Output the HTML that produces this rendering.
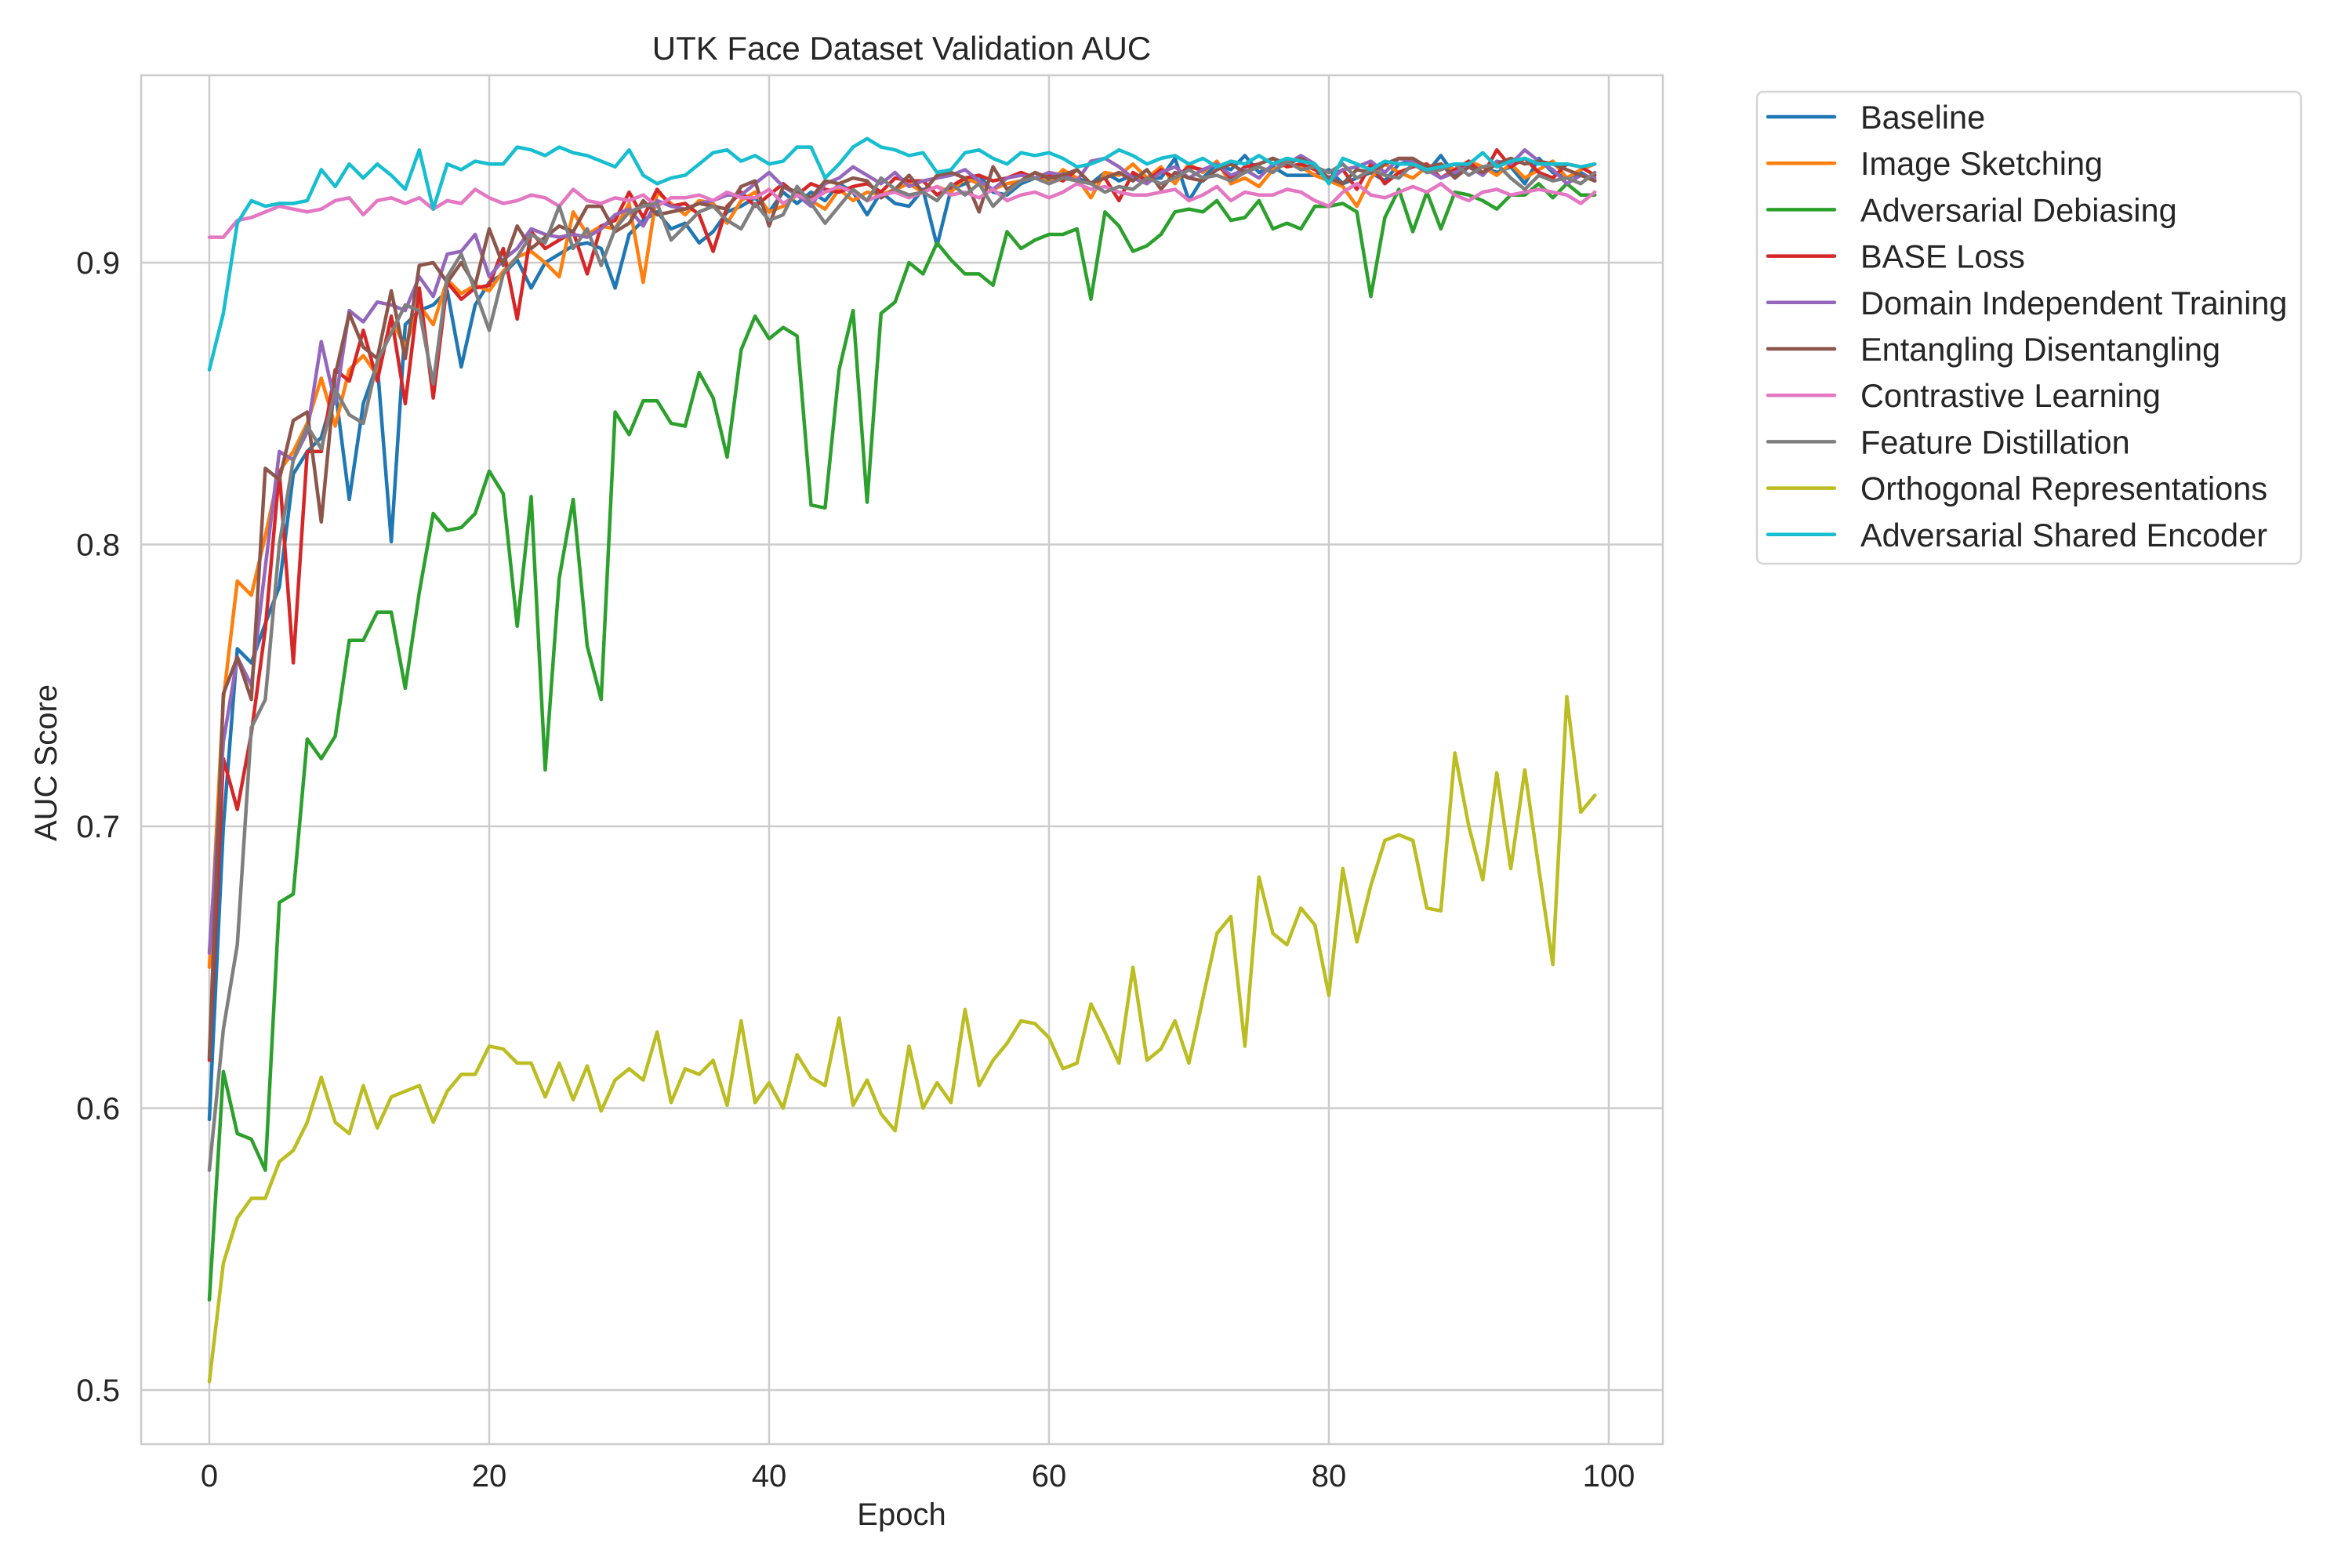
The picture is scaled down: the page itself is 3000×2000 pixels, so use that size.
<!DOCTYPE html>
<html><head><meta charset="utf-8"><style>
html,body{margin:0;padding:0;background:#fff;}
svg{display:block;font-family:"Liberation Sans",sans-serif;}
</style></head><body>
<svg id="chart" width="3000" height="2000" viewBox="0 0 3000 2000" xmlns="http://www.w3.org/2000/svg">
<rect width="3000" height="2000" fill="#fff"/>
<g id="grid"></g>
<g id="lines"></g>
<rect x="180" y="96" width="1941" height="1746" fill="none" stroke="#cccccc" stroke-width="2.5"/>
<g id="ticks" fill="#262626" font-size="40"></g>
<text x="1150" y="76" text-anchor="middle" font-size="42" fill="#262626">UTK Face Dataset Validation AUC</text>
<text x="1150" y="1945" text-anchor="middle" font-size="40" fill="#262626">Epoch</text>
<text transform="translate(72,973) rotate(-90)" text-anchor="middle" font-size="40" fill="#262626">AUC Score</text>
<g id="legend">
<rect x="2241" y="117" width="694" height="602" rx="8" fill="#fff" stroke="#d5d5d5" stroke-width="2.5"/>
</g>
</svg>
<script>
const seriesNames=["Baseline","Image Sketching","Adversarial Debiasing","BASE Loss","Domain Independent Training","Entangling Disentangling","Contrastive Learning","Feature Distillation","Orthogonal Representations","Adversarial Shared Encoder"];
const seriesColors=["#1f77b4","#ff7f0e","#2ca02c","#d62728","#9467bd","#8c564b","#e377c2","#7f7f7f","#bcbd22","#17becf"];
const xTicks=[0,20,40,60,80,100];
const yTicks=[0.5,0.6,0.7,0.8,0.9];
const yTickLabels=["0.5","0.6","0.7","0.8","0.9"];
const baseline=[0.596,0.700,0.763,0.758,0.772,0.785,0.825,0.833,0.838,0.855,0.816,0.850,0.864,0.801,0.878,0.883,0.885,0.890,0.863,0.885,0.893,0.896,0.901,0.891,0.900,0.903,0.906,0.907,0.905,0.891,0.910,0.915,0.918,0.912,0.914,0.907,0.911,0.918,0.920,0.923,0.918,0.925,0.921,0.925,0.922,0.928,0.925,0.917,0.925,0.921,0.920,0.926,0.906,0.926,0.928,0.931,0.925,0.924,0.928,0.930,0.929,0.932,0.930,0.928,0.932,0.929,0.931,0.930,0.930,0.937,0.922,0.930,0.935,0.933,0.938,0.932,0.934,0.931,0.931,0.931,0.933,0.928,0.930,0.932,0.929,0.935,0.936,0.932,0.938,0.931,0.935,0.934,0.932,0.934,0.928,0.937,0.932,0.930,0.932,0.929];
const imageSketching=[0.650,0.745,0.787,0.782,0.803,0.826,0.833,0.843,0.859,0.842,0.862,0.867,0.860,0.880,0.870,0.885,0.878,0.894,0.889,0.892,0.890,0.897,0.902,0.904,0.900,0.895,0.918,0.910,0.913,0.912,0.921,0.893,0.925,0.921,0.917,0.922,0.921,0.914,0.922,0.925,0.918,0.920,0.924,0.922,0.919,0.926,0.922,0.925,0.924,0.926,0.928,0.925,0.927,0.925,0.930,0.928,0.926,0.928,0.929,0.932,0.928,0.933,0.930,0.923,0.932,0.931,0.935,0.930,0.934,0.928,0.935,0.932,0.936,0.928,0.930,0.927,0.933,0.935,0.934,0.931,0.929,0.927,0.920,0.930,0.935,0.932,0.930,0.934,0.935,0.933,0.936,0.934,0.931,0.935,0.930,0.933,0.936,0.930,0.933,0.935];
const advDebiasing=[0.532,0.613,0.591,0.589,0.578,0.673,0.676,0.731,0.724,0.732,0.766,0.766,0.776,0.776,0.749,0.783,0.811,0.805,0.806,0.811,0.826,0.818,0.771,0.817,0.720,0.788,0.816,0.764,0.745,0.847,0.839,0.851,0.851,0.843,0.842,0.861,0.852,0.831,0.869,0.881,0.873,0.877,0.874,0.814,0.813,0.862,0.883,0.815,0.882,0.886,0.900,0.896,0.907,0.901,0.896,0.896,0.892,0.911,0.905,0.908,0.910,0.910,0.912,0.887,0.918,0.913,0.904,0.906,0.910,0.918,0.919,0.918,0.922,0.915,0.916,0.922,0.912,0.914,0.912,0.920,0.920,0.921,0.918,0.888,0.916,0.926,0.911,0.925,0.912,0.925,0.924,0.922,0.919,0.924,0.924,0.928,0.923,0.928,0.924,0.924];
const baseLoss=[0.617,0.724,0.706,0.733,0.770,0.826,0.758,0.833,0.833,0.862,0.858,0.876,0.858,0.881,0.850,0.891,0.852,0.893,0.887,0.891,0.892,0.905,0.880,0.911,0.905,0.908,0.911,0.896,0.913,0.915,0.925,0.916,0.926,0.920,0.921,0.917,0.904,0.920,0.925,0.920,0.924,0.928,0.924,0.928,0.926,0.925,0.927,0.928,0.925,0.930,0.929,0.929,0.924,0.927,0.930,0.931,0.929,0.930,0.932,0.930,0.931,0.929,0.933,0.928,0.930,0.922,0.932,0.929,0.933,0.930,0.934,0.933,0.935,0.930,0.934,0.935,0.937,0.934,0.935,0.933,0.930,0.933,0.926,0.935,0.928,0.932,0.934,0.935,0.930,0.933,0.936,0.931,0.940,0.934,0.937,0.932,0.930,0.935,0.934,0.931];
const domainIndep=[0.655,0.730,0.760,0.750,0.792,0.833,0.830,0.840,0.872,0.850,0.883,0.879,0.886,0.885,0.883,0.895,0.888,0.903,0.904,0.910,0.895,0.901,0.905,0.912,0.910,0.909,0.910,0.909,0.912,0.917,0.919,0.913,0.922,0.920,0.919,0.921,0.922,0.924,0.924,0.928,0.932,0.927,0.924,0.920,0.928,0.930,0.934,0.931,0.928,0.932,0.927,0.929,0.930,0.931,0.933,0.929,0.926,0.930,0.931,0.930,0.932,0.931,0.929,0.936,0.937,0.934,0.930,0.928,0.932,0.934,0.930,0.933,0.935,0.931,0.933,0.930,0.935,0.935,0.938,0.935,0.929,0.933,0.934,0.936,0.932,0.937,0.936,0.933,0.930,0.932,0.934,0.931,0.936,0.935,0.940,0.936,0.933,0.928,0.931,0.930];
const entangling=[0.618,0.747,0.760,0.745,0.827,0.823,0.844,0.847,0.808,0.860,0.882,0.870,0.866,0.890,0.866,0.899,0.900,0.893,0.900,0.892,0.912,0.899,0.913,0.905,0.909,0.913,0.911,0.920,0.920,0.911,0.914,0.922,0.917,0.918,0.919,0.921,0.920,0.919,0.927,0.929,0.913,0.927,0.925,0.923,0.929,0.928,0.930,0.929,0.923,0.926,0.931,0.925,0.931,0.932,0.930,0.918,0.934,0.926,0.929,0.932,0.930,0.931,0.933,0.928,0.930,0.932,0.929,0.933,0.926,0.932,0.930,0.929,0.933,0.935,0.932,0.935,0.937,0.935,0.937,0.934,0.930,0.928,0.933,0.932,0.935,0.937,0.937,0.934,0.935,0.930,0.934,0.932,0.935,0.937,0.935,0.936,0.935,0.933,0.931,0.929];
const contrastive=[0.909,0.909,0.915,0.916,0.918,0.920,0.919,0.918,0.919,0.922,0.923,0.917,0.922,0.923,0.921,0.923,0.919,0.922,0.921,0.926,0.923,0.921,0.922,0.924,0.923,0.920,0.926,0.922,0.921,0.923,0.922,0.924,0.920,0.923,0.923,0.924,0.922,0.925,0.923,0.923,0.926,0.921,0.924,0.922,0.925,0.927,0.925,0.922,0.924,0.925,0.923,0.925,0.927,0.924,0.925,0.923,0.926,0.922,0.924,0.925,0.923,0.925,0.928,0.926,0.927,0.925,0.924,0.924,0.925,0.926,0.922,0.924,0.927,0.922,0.925,0.924,0.924,0.926,0.925,0.922,0.920,0.925,0.928,0.924,0.923,0.925,0.927,0.925,0.928,0.924,0.922,0.925,0.926,0.924,0.925,0.926,0.925,0.924,0.921,0.925];
const featureDist=[0.578,0.628,0.658,0.735,0.745,0.800,0.830,0.842,0.834,0.855,0.846,0.843,0.865,0.875,0.885,0.883,0.857,0.895,0.903,0.890,0.876,0.896,0.902,0.910,0.907,0.920,0.905,0.912,0.899,0.912,0.918,0.920,0.921,0.908,0.913,0.918,0.920,0.915,0.912,0.921,0.915,0.917,0.927,0.921,0.914,0.920,0.926,0.922,0.930,0.926,0.924,0.925,0.922,0.928,0.924,0.928,0.920,0.925,0.929,0.930,0.928,0.930,0.929,0.928,0.925,0.927,0.926,0.930,0.928,0.930,0.933,0.930,0.931,0.929,0.932,0.934,0.932,0.936,0.933,0.934,0.932,0.935,0.930,0.933,0.931,0.930,0.935,0.932,0.933,0.935,0.931,0.934,0.935,0.930,0.926,0.931,0.929,0.930,0.928,0.932];
const orthogonal=[0.503,0.545,0.561,0.568,0.568,0.581,0.585,0.595,0.611,0.595,0.591,0.608,0.593,0.604,0.606,0.608,0.595,0.606,0.612,0.612,0.622,0.621,0.616,0.616,0.604,0.616,0.603,0.615,0.599,0.610,0.614,0.610,0.627,0.602,0.614,0.612,0.617,0.601,0.631,0.602,0.609,0.600,0.619,0.611,0.608,0.632,0.601,0.610,0.598,0.592,0.622,0.600,0.609,0.602,0.635,0.608,0.617,0.623,0.631,0.630,0.625,0.614,0.616,0.637,0.627,0.616,0.650,0.617,0.621,0.631,0.616,0.639,0.662,0.668,0.622,0.682,0.662,0.658,0.671,0.665,0.640,0.685,0.659,0.679,0.695,0.697,0.695,0.671,0.670,0.726,0.700,0.681,0.719,0.685,0.720,0.685,0.651,0.746,0.705,0.711];
const advShared=[0.862,0.882,0.914,0.922,0.920,0.921,0.921,0.922,0.933,0.927,0.935,0.930,0.935,0.931,0.926,0.940,0.919,0.935,0.933,0.936,0.935,0.935,0.941,0.940,0.938,0.941,0.939,0.938,0.936,0.934,0.940,0.931,0.928,0.930,0.931,0.935,0.939,0.940,0.936,0.938,0.935,0.936,0.941,0.941,0.930,0.935,0.941,0.944,0.941,0.940,0.938,0.939,0.932,0.933,0.939,0.940,0.937,0.935,0.939,0.938,0.939,0.937,0.934,0.935,0.937,0.940,0.938,0.935,0.937,0.938,0.935,0.937,0.934,0.936,0.935,0.938,0.935,0.937,0.936,0.935,0.928,0.937,0.935,0.933,0.936,0.935,0.935,0.933,0.934,0.935,0.935,0.939,0.934,0.936,0.937,0.935,0.935,0.935,0.934,0.935];
const allSeries=[baseline,imageSketching,advDebiasing,baseLoss,domainIndep,entangling,contrastive,featureDist,orthogonal,advShared];
const seriesKeys=["baseline","image-sketching","adversarial-debiasing","base-loss","domain-independent","entangling-disentangling","contrastive-learning","feature-distillation","orthogonal-representations","adversarial-shared-encoder"];

const NS="http://www.w3.org/2000/svg";
function xs(v){return 267+(v-0)*(2052-267)/100;}
function ys(v){return 1773-(v-0.5)*3595;}
function mk(tag,attrs,parent){const e=document.createElementNS(NS,tag);for(const k in attrs)e.setAttribute(k,attrs[k]);parent.appendChild(e);return e;}
const grid=document.getElementById('grid'),ticks=document.getElementById('ticks'),lines=document.getElementById('lines'),legend=document.getElementById('legend');
xTicks.forEach(t=>{
  const l=mk('line',{x1:xs(t),x2:xs(t),y1:96,y2:1842,stroke:'#cccccc','stroke-width':2.5},grid);
  
  
  const tx=mk('text',{x:xs(t),y:1896,'text-anchor':'middle'},ticks);tx.textContent=String(t);
  
  
});
yTicks.forEach((t,i)=>{
  const l=mk('line',{x1:180,x2:2121,y1:ys(t),y2:ys(t),stroke:'#cccccc','stroke-width':2.5},grid);
  
  
  const tx=mk('text',{x:153,y:ys(t)+14,'text-anchor':'end'},ticks);tx.textContent=yTickLabels[i];
  
  
});
allSeries.forEach((arr,si)=>{
  const pts=arr.map((v,i)=>xs(i).toFixed(1)+','+ys(v).toFixed(1)).join(' ');
  const pl=mk('polyline',{points:pts,fill:'none',stroke:seriesColors[si],'stroke-width':4.5,'stroke-linejoin':'round','stroke-linecap':'round'},lines);
  
  
  const y=149+si*59.2;
  const g=mk('g',{},legend);
  
  
  mk('line',{x1:2255,x2:2340,y1:y,y2:y,stroke:seriesColors[si],'stroke-width':4.5,'stroke-linecap':'round'},g);
  const tx=mk('text',{x:2373,y:y+15,'font-size':41.5,fill:'#262626'},g);tx.textContent=seriesNames[si];
});
</script>
</body></html>
